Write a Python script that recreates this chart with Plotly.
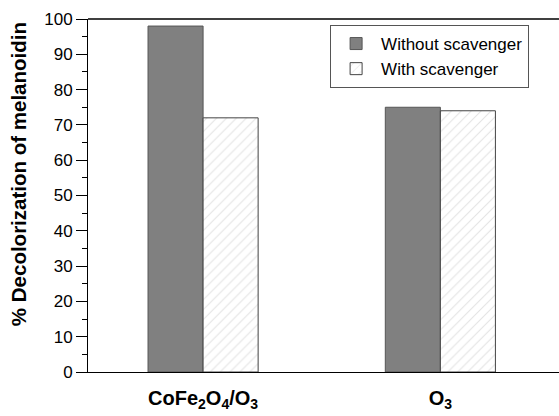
import plotly.graph_objects as go

categories = ["CoFe<sub>2</sub>O<sub>4</sub>/O<sub>3</sub>", "O<sub>3</sub>"]
without_scavenger = [98, 75]
with_scavenger = [72, 74]
series_names = ["Without scavenger", "With scavenger"]
ytick_vals = [0, 10, 20, 30, 40, 50, 60, 70, 80, 90, 100]
y_title = "% Decolorization of melanoidin"

font_family = "Liberation Sans, Arial, sans-serif"

fig = go.Figure()
fig.add_trace(go.Bar(
    x=categories, y=without_scavenger, name=series_names[0],
    marker=dict(color="#808080", line=dict(color="#555555", width=1)),
))
fig.add_trace(go.Bar(
    x=categories, y=with_scavenger, name=series_names[1],
    marker=dict(color="white", line=dict(color="#444444", width=1),
                pattern=dict(shape="/", fgcolor="#c8c8c8", bgcolor="white",
                             size=7, solidity=0.15)),
))

fig.update_layout(
    width=559, height=416,
    margin=dict(l=88, r=0, t=19, b=44),
    paper_bgcolor="white", plot_bgcolor="white",
    barmode="group", bargap=0.536, bargroupgap=0,
    font=dict(family=font_family, color="black"),
    showlegend=True,
    legend=dict(
        x=0.514, y=0.983, xanchor="left", yanchor="top",
        bordercolor="#555555", borderwidth=1, bgcolor="white",
        font=dict(size=17, family=font_family),
        tracegroupgap=0, itemwidth=40,
    ),
    xaxis=dict(
        type="category", range=[-0.485, 1.5],
        showline=True, linecolor="black", linewidth=1, mirror=False,
        ticks="", tickfont=dict(size=20, family=font_family, weight="bold"),
        ticklabelstandoff=8,
    ),
    yaxis=dict(
        range=[0, 100], tickvals=ytick_vals,
        showline=True, linecolor="black", linewidth=1,
        ticks="outside", ticklen=11, tickcolor="black",
        minor=dict(ticks="outside", ticklen=5, dtick=5, tickcolor="black"),
        showgrid=False, zeroline=False,
        tickfont=dict(size=17, family=font_family),
    ),
)
fig.add_annotation(
    text=y_title, xref="paper", yref="paper", x=-0.149, y=0.56,
    xanchor="center", yanchor="middle", textangle=-90, showarrow=False,
    font=dict(size=20.5, family=font_family, weight="bold", color="black"),
)
fig.add_shape(type="line", xref="paper", yref="paper", x0=0, x1=1, y0=1, y1=1,
              line=dict(color="black", width=1.5))

fig.write_html("out.html")
